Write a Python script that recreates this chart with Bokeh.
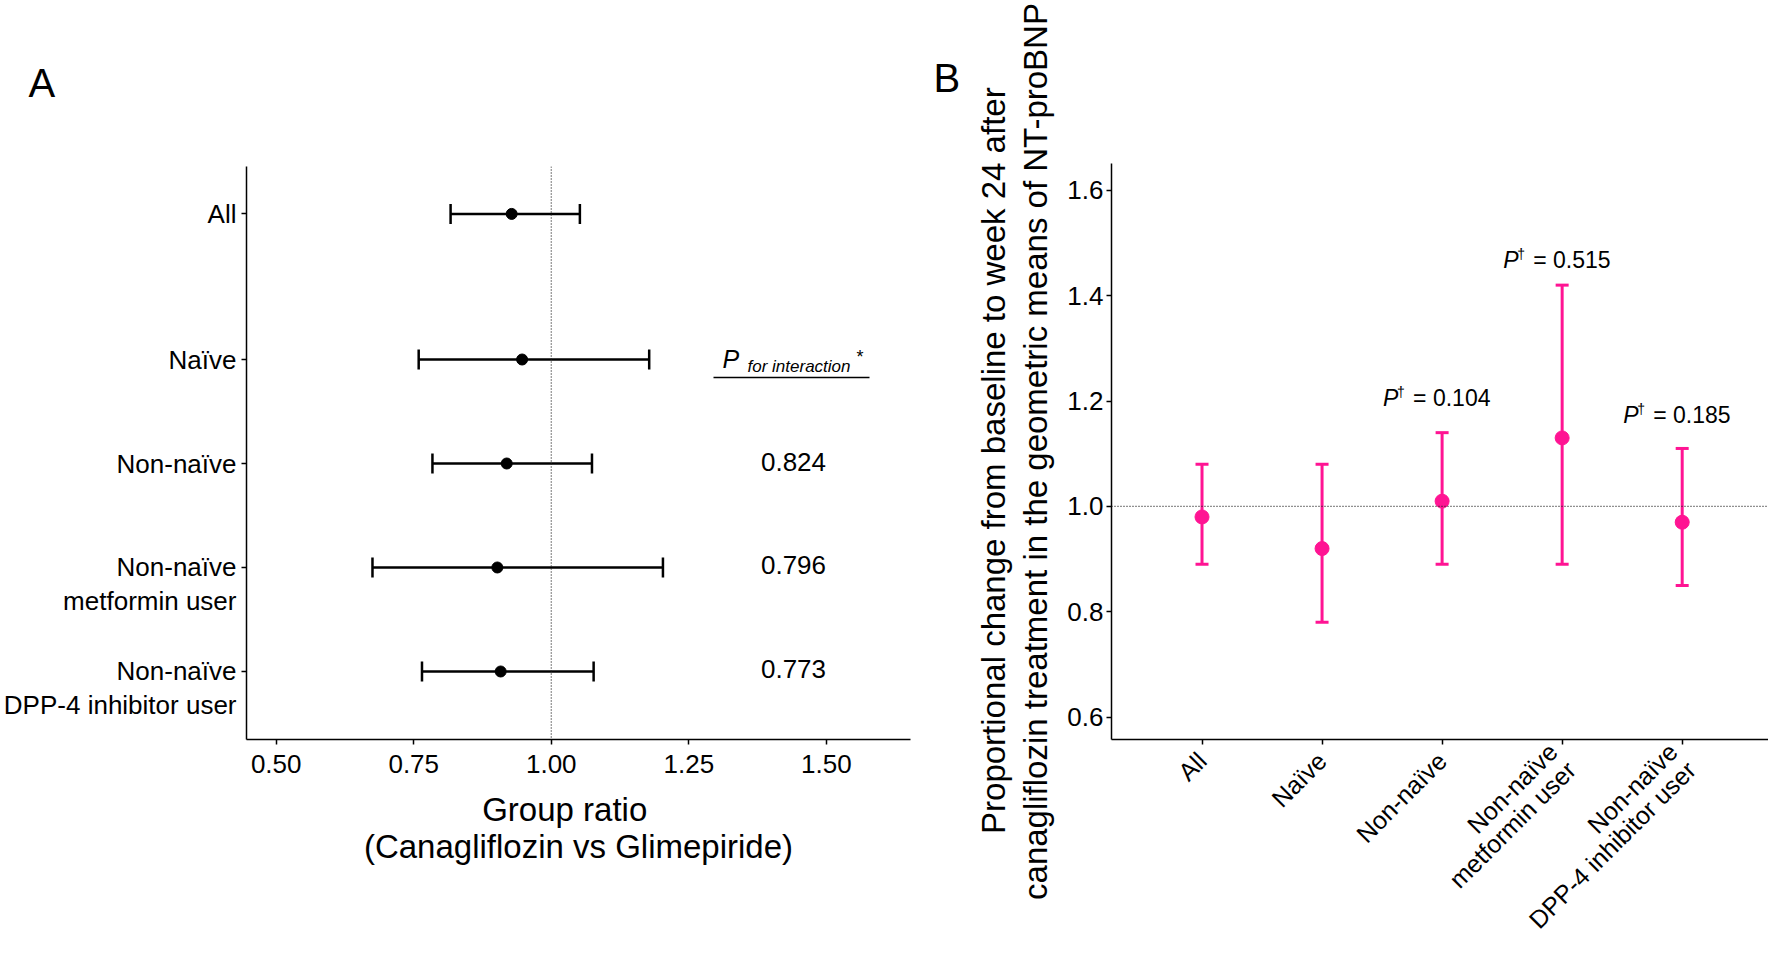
from math import pi
from bokeh.plotting import figure
from bokeh.models import (Range1d, FixedTicker, Span, Whisker, TeeHead, Label,
                          ColumnDataSource, PrintfTickFormatter)
from bokeh.layouts import row
from bokeh.embed import file_html
from bokeh.resources import INLINE

FONT = "Liberation Sans"
PINK = "#FF1493"
NB = "\u00a0"

# ---------------- data ----------------
groups = ["All", "Naïve", "Non-naïve", "Non-naïve\nmetformin user", "Non-naïve\nDPP-4 inhibitor user"]

# Panel A: group ratio (Canagliflozin vs Glimepiride)
a_pos = [5.4, 4, 3, 2, 1]
a_ratio = [0.928, 0.947, 0.919, 0.902, 0.908]
a_lower = [0.817, 0.759, 0.784, 0.675, 0.765]
a_upper = [1.052, 1.178, 1.074, 1.203, 1.077]
a_p_interaction = ["", "", "0.824", "0.796", "0.773"]

# Panel B: proportional change in geometric means of NT-proBNP
b_pos = [1, 2, 3, 4, 5]
b_change = [0.98, 0.92, 1.01, 1.13, 0.97]
b_lower = [0.89, 0.78, 0.89, 0.89, 0.85]
b_upper = [1.08, 1.08, 1.14, 1.42, 1.11]
b_p = ["", "", "0.104", "0.515", "0.185"]

a_xticks = [0.50, 0.75, 1.00, 1.25, 1.50]
b_yticks = [0.6, 0.8, 1.0, 1.2, 1.4, 1.6]

# ---------------- layout (pixels) ----------------
H = 955
WA = 920
WB = 848

A_L, A_R, A_T, A_B = 246, 910, 166, 739
AX0, AX1 = 0.446, 1.653
AY0, AY1 = 0.346, 5.856
B_L, B_R, B_T, B_B = 1111, 1768, 163, 742
BX0, BX1 = 0.246, 5.719
B_ONE_PX, B_PX_PER_UNIT = 507.7, 529.6
BY1 = 1 + (B_ONE_PX - B_T) / B_PX_PER_UNIT
BY0 = 1 - (B_B - B_ONE_PX) / B_PX_PER_UNIT


def ax(px):
    return AX0 + (px - A_L) * (AX1 - AX0) / (A_R - A_L)


def ay(py):
    return AY1 - (py - A_T) * (AY1 - AY0) / (A_B - A_T)


def by(py):
    return BY1 - (py - B_T) * (BY1 - BY0) / (B_B - B_T)


def style_axes(p):
    p.xgrid.visible = False
    p.ygrid.visible = False
    p.outline_line_color = None
    p.background_fill_color = "white"
    p.border_fill_color = "white"
    try:
        p.frame_align = False
    except Exception:
        pass
    for a in (p.xaxis + p.yaxis):
        a.axis_line_color = "black"
        a.axis_line_width = 1.5
        a.major_tick_line_color = "black"
        a.major_tick_line_width = 1.5
        a.major_tick_in = 0
        a.major_tick_out = 5
        a.minor_tick_line_color = None
        a.major_label_text_font = FONT
        a.major_label_text_font_size = "26px"
        a.major_label_text_color = "black"
        a.axis_label_text_font = FONT
        a.axis_label_text_font_size = "33px"
        a.axis_label_text_font_style = "normal"
        a.axis_label_text_color = "black"


def style_title(p, offset, standoff):
    # panel letter: a second (blank) line lifts the letter above the frame
    p.title.text_font = FONT
    p.title.text_font_size = "40px"
    p.title.text_font_style = "normal"
    p.title.text_color = "black"
    p.title.text_line_height = 1.0
    p.title.align = "left"
    p.title.offset = offset
    p.title.standoff = standoff
    p.title.vertical_align = "bottom"


def lab(p, x, y, text, size, align="left", baseline="alphabetic", style="normal",
        x_offset=0, y_offset=0, color="black"):
    p.add_layout(Label(x=x, y=y, text=text, text_font=FONT, text_font_size=size,
                       text_align=align, text_baseline=baseline, text_font_style=style,
                       x_offset=x_offset, y_offset=y_offset, text_color=color))


# ---------------- Panel A ----------------
pA = figure(width=WA, height=H, output_backend="svg", toolbar_location=None,
            title="A\n" + NB,
            x_range=Range1d(AX0, AX1), y_range=Range1d(AY0, AY1),
            min_border_left=A_L, min_border_right=WA - A_R,
            min_border_top=A_T, min_border_bottom=H - A_B)
style_axes(pA)
style_title(pA, offset=28 - A_L, standoff=35)
pA.xaxis.ticker = FixedTicker(ticks=a_xticks)
pA.xaxis.formatter = PrintfTickFormatter(format="%.2f")
pA.xaxis.major_label_standoff = 10
pA.xaxis.axis_label = "Group ratio" + NB * 3 + "\n(Canagliflozin vs Glimepiride)"
pA.xaxis.axis_label_standoff = 15
pA.xaxis.axis_label_text_line_height = 1.0
pA.yaxis.ticker = FixedTicker(ticks=a_pos)
# multi-line labels: blank first line so that "Non-naïve" sits on the tick
pA.yaxis.major_label_overrides = {
    pos: (NB + "\n" + g if "\n" in g else g) for pos, g in zip(a_pos, groups)}
pA.yaxis.major_label_standoff = 5
pA.yaxis.major_label_text_line_height = 1.12

pA.add_layout(Span(location=1.0, dimension="height", line_color="#222222",
                   line_width=1.2, line_dash="1 2"))

srcA = ColumnDataSource(dict(pos=a_pos, ratio=a_ratio, lower=a_lower, upper=a_upper))
pA.add_layout(Whisker(source=srcA, base="pos", lower="lower", upper="upper",
                      dimension="width", line_color="black", line_width=2.5,
                      upper_head=TeeHead(size=20, line_color="black", line_width=2.5),
                      lower_head=TeeHead(size=20, line_color="black", line_width=2.5)))
pA.scatter(x="ratio", y="pos", source=srcA, size=11, color="black")

# P for interaction header + values
lab(pA, ax(722), ay(358), "P", "25px", style="italic")
lab(pA, ax(747), ay(366), "for interaction", "17px", style="italic")
lab(pA, ax(856), ay(356), "*", "18px")
pA.segment(x0=[ax(713)], x1=[ax(869)], y0=[ay(377)], y1=[ay(377)],
           line_color="black", line_width=1.5)
for pos, pv in zip(a_pos, a_p_interaction):
    if pv:
        lab(pA, ax(793), pos, pv, "26px", align="center", baseline="middle", y_offset=2)

# ---------------- Panel B ----------------
pB = figure(width=WB, height=H, output_backend="svg", toolbar_location=None,
            title="B\n" + NB,
            x_range=Range1d(BX0, BX1), y_range=Range1d(BY0, BY1),
            min_border_left=B_L - WA, min_border_right=WA + WB - B_R,
            min_border_top=B_T, min_border_bottom=H - B_B)
style_axes(pB)
style_title(pB, offset=933 - B_L, standoff=39)
pB.yaxis.ticker = FixedTicker(ticks=b_yticks)
pB.yaxis.formatter = PrintfTickFormatter(format="%.1f")
pB.yaxis.major_label_standoff = 3
pB.yaxis.axis_label = ("Proportional change from baseline to week 24 after" + NB * 2 + "\n"
                       "canagliflozin treatment in the geometric means of NT-proBNP")
pB.yaxis.axis_label_standoff = 10
pB.yaxis.axis_label_text_line_height = 1.14
pB.xaxis.ticker = FixedTicker(ticks=b_pos)
pB.xaxis.major_label_overrides = {pos: g for pos, g in zip(b_pos, groups)}
pB.xaxis.major_label_orientation = pi / 4
pB.xaxis.major_label_standoff = 12
pB.xaxis.major_label_text_font_size = "25px"
pB.xaxis.major_label_text_line_height = 0.92

pB.add_layout(Span(location=1.0, dimension="width", line_color="#222222",
                   line_width=1.2, line_dash="1 2"))

srcB = ColumnDataSource(dict(pos=b_pos, change=b_change, lower=b_lower, upper=b_upper))
pB.add_layout(Whisker(source=srcB, base="pos", lower="lower", upper="upper",
                      dimension="height", line_color=PINK, line_width=3,
                      upper_head=TeeHead(size=13, line_color=PINK, line_width=3),
                      lower_head=TeeHead(size=13, line_color=PINK, line_width=3)))
pB.scatter(x="pos", y="change", source=srcB, size=14, color=PINK)

# P-value annotations (baseline pixel rows from the layout)
b_p_baseline_px = [None, None, 399, 260, 416]
for pos, pv, bl in zip(b_pos, b_p, b_p_baseline_px):
    if pv:
        yb = by(bl)
        lab(pB, pos, yb, "P", "23px", style="italic", x_offset=-59)
        lab(pB, pos, yb, "\u2020", "14px", x_offset=-45, y_offset=6)
        lab(pB, pos, yb, "= " + pv, "23px", x_offset=-29)

layout = row(pA, pB)
open("out.html", "w").write(file_html(layout, INLINE))
